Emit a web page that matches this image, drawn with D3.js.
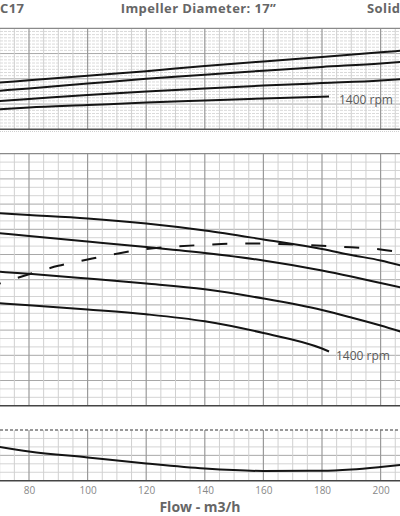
<!DOCTYPE html>
<html><head><meta charset="utf-8">
<script src="https://cdn.jsdelivr.net/npm/d3@7"></script>
<style>
html,body{margin:0;padding:0;background:#fff;}
svg{display:block;}
</style></head>
<body>
<svg id="chart" width="400" height="516"></svg>
<script>
// ---- Data ----
const titleLeft = "C17";
const titleMid = "Impeller Diameter: 17\u201D";
const titleRight = "Solid";
const xTickValues = [80, 100, 120, 140, 160, 180, 200];
const xTitle = "Flow - m3/h";
const speedLabel = "1400 rpm";

// Power panel (top)
const powerFlow = [70, 80, 100, 120, 140, 160, 180, 200, 207];
const power1 = [28.5, 29.4, 31.2, 33.0, 35.1, 36.9, 38.6, 40.5, 41.1];
const power2 = [25.3, 26.2, 28.1, 30.0, 31.6, 33.2, 34.7, 36.1, 36.7];
const power3 = [21.2, 22.0, 23.6, 25.0, 26.2, 27.3, 28.3, 29.3, 29.9];
const power4Flow = [70, 80, 100, 120, 140, 160, 180, 182.4];
const power4 = [17.9, 18.6, 19.6, 20.6, 21.4, 22.2, 22.9, 23.0];

// Head panel (middle)
const headFlow = [70, 80, 100, 120, 140, 160, 180, 190, 200, 207];
const head1 = [32.90, 32.70, 32.29, 31.69, 30.86, 29.79, 28.65, 27.94, 27.29, 26.69];
const head2 = [30.52, 30.20, 29.55, 28.89, 28.18, 27.29, 26.10, 25.38, 24.61, 24.07];
const head3 = [25.95, 25.70, 25.14, 24.55, 23.86, 22.76, 21.39, 20.50, 19.55, 18.81];
const head4Flow = [70, 80, 100, 120, 140, 160, 180, 182.4];
const head4 = [22.19, 21.96, 21.45, 20.88, 20.05, 18.65, 16.81, 16.45];

// Efficiency (dashed, middle panel)
const effFlow = [70, 80, 90, 100, 110, 120, 130, 140, 150, 160, 170, 180, 190, 200, 207];
const eff = [49.1, 51.3, 53.3, 54.8, 56.2, 57.3, 57.9, 58.3, 58.6, 58.6, 58.4, 58.1, 57.7, 57.2, 56.5];

// NPSH panel (bottom)
const npshFlow = [70, 80, 100, 120, 140, 160, 180, 190, 200, 207];
const npsh = [3.99, 3.46, 2.75, 2.04, 1.44, 1.15, 1.18, 1.33, 1.62, 1.86];

// ---- Layout ----
const W = 400;
const svg = d3.select("#chart");
const FONT = "'Open Sans', 'DejaVu Sans', sans-serif";

const x = d3.scaleLinear().domain([80, 200]).range([29, 380.6]);
const xMinor = d3.range(70, 210, 5);

const panels = {
  power: {y: d3.scaleLinear().domain([10, 50]).range([129.3, 28.3]), minorStep: 1.25, majorStep: 10},
  head:  {y: d3.scaleLinear().domain([10, 40]).range([405.7, 153.7]), minorStep: 1, majorStep: 3},
  npsh:  {y: d3.scaleLinear().domain([0, 6]).range([480.7, 430]), minorStep: 1, majorStep: 3}
};
const effY = d3.scaleLinear().domain([20, 80]).range([405.7, 153.7]);

function drawGrid(p, name, opts) {
  const g = svg.append("g").attr("class", "grid-" + name);
  const [y0, y1] = p.y.range(); // bottom, top
  const [d0, d1] = p.y.domain();
  const hs = d3.range(d0, d1 + 1e-6, p.minorStep);
  hs.forEach(v => {
    const isMajor = Math.abs(((v - d0) / p.majorStep) - Math.round((v - d0) / p.majorStep)) < 1e-6;
    if (v === d0 || Math.abs(v - d1) < 1e-6) return;
    g.append("line").attr("x1", 0).attr("x2", W)
      .attr("y1", p.y(v)).attr("y2", p.y(v))
      .attr("stroke", isMajor ? "#a8a8a8" : (opts.hMinorColor || "#d4d4d4"))
      .attr("stroke-width", 1)
      .attr("stroke-dasharray", (!isMajor && opts.hMinorDash) ? opts.hMinorDash : null);
  });
  xMinor.forEach(v => {
    const isMajor = v % 20 === 0;
    g.append("line").attr("x1", x(v)).attr("x2", x(v))
      .attr("y1", y1).attr("y2", y0)
      .attr("stroke", isMajor ? "#9a9a9a" : "#d0d0d0")
      .attr("stroke-width", isMajor ? 1.2 : 1);
  });
  g.append("line").attr("x1", 0).attr("x2", W).attr("y1", y1).attr("y2", y1)
    .attr("stroke", opts.topColor).attr("stroke-width", 1.3)
    .attr("stroke-dasharray", opts.topDash || null);
  g.append("line").attr("x1", 0).attr("x2", W).attr("y1", y0).attr("y2", y0)
    .attr("stroke", opts.bottomColor).attr("stroke-width", 1.6);
}

drawGrid(panels.power, "power", {topColor: "#8a8a8a", bottomColor: "#555", hMinorColor: "#dadada", hMinorDash: "3,1"});
drawGrid(panels.head, "head", {topColor: "#8a8a8a", bottomColor: "#444"});
drawGrid(panels.npsh, "npsh", {topColor: "#777", bottomColor: "#444", topDash: "3,2"});

svg.append("line").attr("x1", 0).attr("x2", W).attr("y1", 131.5).attr("y2", 131.5)
  .attr("stroke", "#d0d0d0").attr("stroke-dasharray", "1,1");

function curve(xs, ys, yScale, opts = {}) {
  const line = d3.line().x(d => x(d[0])).y(d => yScale(d[1])).curve(d3.curveMonotoneX);
  svg.append("path").datum(xs.map((v, i) => [v, ys[i]]))
    .attr("d", line).attr("fill", "none")
    .attr("stroke", "#141414").attr("stroke-width", opts.width || 2)
    .attr("stroke-dasharray", opts.dash || null)
    .attr("stroke-dashoffset", opts.offset || 0)
    .attr("stroke-linecap", "butt");
}

[power1, power2, power3].forEach(s => curve(powerFlow, s, panels.power.y));
curve(power4Flow, power4, panels.power.y);
[head1, head2, head3].forEach(s => curve(headFlow, s, panels.head.y));
curve(head4Flow, head4, panels.head.y);
curve(effFlow, eff, effY, {dash: "15,18", offset: 14});
curve(npshFlow, npsh, panels.npsh.y);

// speed labels
[[339, 103.5], [336, 360]].forEach(([lx, ly]) => {
  svg.append("text").attr("x", lx).attr("y", ly).text(speedLabel)
    .attr("font-family", FONT).attr("font-size", 12).attr("fill", "#5a5a5a");
});

// titles
const tStyle = s => s.attr("font-family", FONT).attr("font-weight", "bold")
  .attr("font-size", 13).attr("letter-spacing", 0.4).attr("fill", "#666");
tStyle(svg.append("text").attr("x", 0).attr("y", 12.5).text(titleLeft));
tStyle(svg.append("text").attr("x", 198.5).attr("y", 12.5).attr("text-anchor", "middle").text(titleMid));
tStyle(svg.append("text").attr("x", 367).attr("y", 12.5).text(titleRight));

// x axis
const axis = svg.append("g").attr("transform", "translate(0,480.7)")
  .call(d3.axisBottom(x).tickValues(xTickValues).tickSize(0).tickPadding(6.2).tickFormat(d3.format("d")));
axis.select(".domain").remove();
axis.selectAll("text").attr("font-family", FONT).attr("font-size", 10).attr("fill", "#888");

svg.append("text").attr("x", 200).attr("y", 511.5).attr("text-anchor", "middle").text(xTitle)
  .attr("font-family", FONT).attr("font-weight", "bold").attr("font-size", 14).attr("fill", "#666");
</script>
</body></html>
